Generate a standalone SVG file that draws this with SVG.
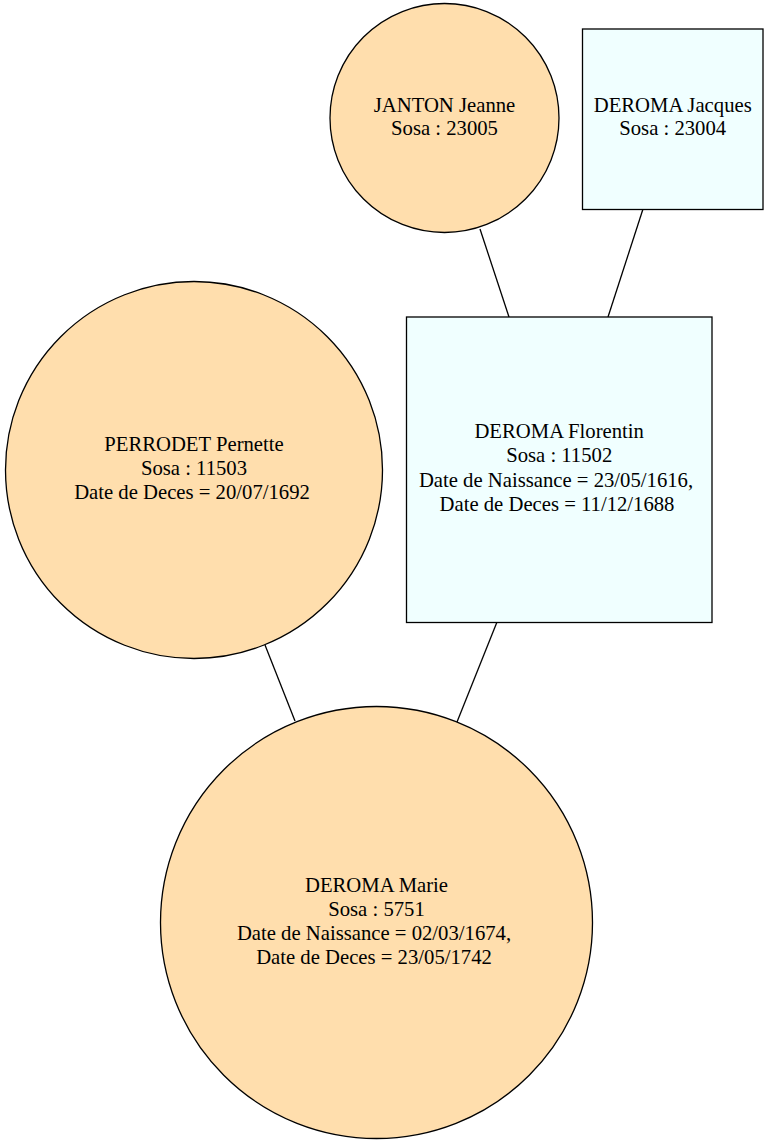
<svg xmlns="http://www.w3.org/2000/svg" width="768" height="1144" viewBox="0 0 768 1144">
  <style>
    .female { fill: #ffdead; stroke: #000; stroke-width: 1.3; }
    .male { fill: #f0ffff; stroke: #000; stroke-width: 1.3; }
    .edge { stroke: #000; stroke-width: 1.3; fill: none; }
    .lbl { font-family: 'Liberation Serif', 'Times New Roman', Times, 'DejaVu Serif', serif; font-size: 20.7px; fill: #000; text-anchor: middle; }
  </style>
  <rect width="768" height="1144" fill="#fff"/>

  <!-- parent-child links -->
  <g id="edges">
    <line class="edge" x1="480" y1="229" x2="509" y2="317"/>
    <line class="edge" x1="643" y1="209" x2="608" y2="317"/>
    <line class="edge" x1="265" y1="645" x2="295" y2="721"/>
    <line class="edge" x1="497" y1="622" x2="457" y2="722"/>
  </g>

  <g id="janton_jeanne">
    <circle class="female" cx="444.5" cy="118" r="114.5"/>
    <text class="lbl" x="444.5" y="111.7">JANTON Jeanne</text>
    <text class="lbl" x="444.5" y="135.3">Sosa : 23005</text>
  </g>

  <g id="deroma_jacques">
    <rect class="male" x="582.5" y="29" width="180.5" height="180.5"/>
    <text class="lbl" x="672.7" y="111.7">DEROMA Jacques</text>
    <text class="lbl" x="672.7" y="135.3">Sosa : 23004</text>
  </g>

  <g id="deroma_florentin">
    <rect class="male" x="406.5" y="317" width="305.5" height="305.5"/>
    <text class="lbl" x="559.2" y="438.3">DEROMA Florentin</text>
    <text class="lbl" x="559.2" y="462.3">Sosa : 11502</text>
    <text class="lbl" x="556" y="486.5">Date de Naissance = 23/05/1616,</text>
    <text class="lbl" x="557" y="510.5">Date de Deces = 11/12/1688</text>
  </g>

  <g id="perrodet_pernette">
    <circle class="female" cx="194" cy="470" r="188.5"/>
    <text class="lbl" x="194" y="451">PERRODET Pernette</text>
    <text class="lbl" x="194" y="475">Sosa : 11503</text>
    <text class="lbl" x="192" y="499">Date de Deces = 20/07/1692</text>
  </g>

  <g id="deroma_marie">
    <circle class="female" cx="376.5" cy="922.5" r="216"/>
    <text class="lbl" x="376.5" y="891.7">DEROMA Marie</text>
    <text class="lbl" x="376.5" y="915.7">Sosa : 5751</text>
    <text class="lbl" x="374" y="939.5">Date de Naissance = 02/03/1674,</text>
    <text class="lbl" x="374" y="963.5">Date de Deces = 23/05/1742</text>
  </g>
</svg>
